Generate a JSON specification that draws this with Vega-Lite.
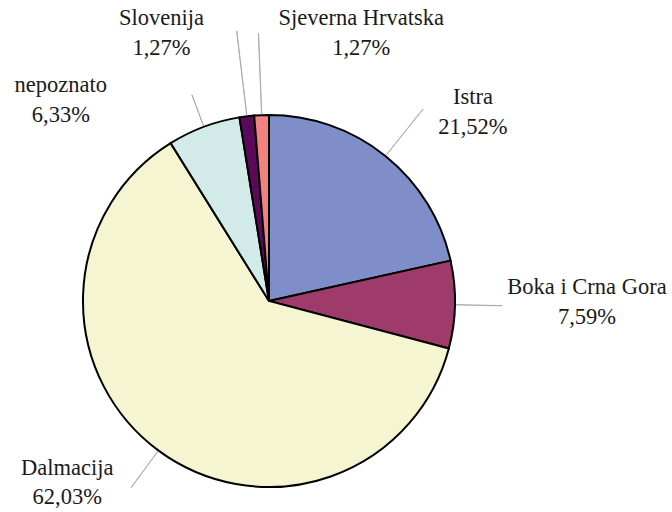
{
  "$schema": "https://vega.github.io/schema/vega-lite/v6.json",
  "width": 372,
  "height": 372,
  "autosize": "none",
  "padding": {"left": 83, "top": 115, "right": 217, "bottom": 25},
  "background": "white",
  "config": {"view": {"stroke": null}},
  "data": {
    "values": [
      {"kategorija": "Istra", "udio": 21.52, "red": 1},
      {"kategorija": "Boka i Crna Gora", "udio": 7.59, "red": 2},
      {"kategorija": "Dalmacija", "udio": 62.03, "red": 3},
      {"kategorija": "nepoznato", "udio": 6.33, "red": 4},
      {"kategorija": "Slovenija", "udio": 1.27, "red": 5},
      {"kategorija": "Sjeverna Hrvatska", "udio": 1.27, "red": 6}
    ]
  },
  "transform": [
    {"window": [{"op": "sum", "field": "udio", "as": "kraj"}], "sort": [{"field": "red"}], "frame": [null, 0]},
    {"calculate": "datum.kraj - datum.udio / 2", "as": "sredina"},
    {"calculate": "datum.sredina + 0.02", "as": "sredina2"},
    {"calculate": "datum.kategorija + '\\n' + replace(format(datum.udio, '.2f'), '.', ',') + '%'", "as": "oznaka"}
  ],
  "layer": [
    {
      "mark": {"type": "arc", "outerRadius": 186, "stroke": "black", "strokeWidth": 2},
      "encoding": {
        "theta": {"field": "udio", "type": "quantitative", "stack": true, "scale": {"domain": [0, 100.01]}},
        "order": {"field": "red", "type": "quantitative"},
        "color": {
          "field": "kategorija",
          "type": "nominal",
          "scale": {
            "domain": ["Istra", "Boka i Crna Gora", "Dalmacija", "nepoznato", "Slovenija", "Sjeverna Hrvatska"],
            "range": ["#7F8DC8", "#9E3B6B", "#F6F5D2", "#D3EBE8", "#5B0A5A", "#F28282"]
          },
          "legend": null
        }
      }
    },
    {
      "transform": [{"filter": "datum.kategorija === 'Istra'"}],
      "layer": [
        {"mark": {"type": "arc", "innerRadius": 187, "outerRadius": 246, "fill": "#a8a8a8", "stroke": "#a8a8a8", "strokeWidth": 0.8},
         "encoding": {"theta": {"field": "sredina", "type": "quantitative", "stack": null, "scale": {"domain": [0, 100.01]}}, "theta2": {"field": "sredina2"}}},
        {"mark": {"type": "text", "radius": 246, "dx": 50, "dy": -12, "font": "Liberation Serif", "fontSize": 22.5, "lineBreak": "\n", "lineHeight": 30, "align": "center", "baseline": "middle", "color": "#1a1a1a"},
         "encoding": {"theta": {"field": "sredina", "type": "quantitative", "stack": null, "scale": {"domain": [0, 100.01]}}, "text": {"field": "oznaka"}}}
      ]
    },
    {
      "transform": [{"filter": "datum.kategorija === 'Boka i Crna Gora'"}],
      "layer": [
        {"mark": {"type": "arc", "innerRadius": 187, "outerRadius": 233, "fill": "#a8a8a8", "stroke": "#a8a8a8", "strokeWidth": 0.8},
         "encoding": {"theta": {"field": "sredina", "type": "quantitative", "stack": null, "scale": {"domain": [0, 100.01]}}, "theta2": {"field": "sredina2"}}},
        {"mark": {"type": "text", "radius": 233, "dx": 85, "dy": -19, "font": "Liberation Serif", "fontSize": 22.5, "lineBreak": "\n", "lineHeight": 30, "align": "center", "baseline": "middle", "color": "#1a1a1a"},
         "encoding": {"theta": {"field": "sredina", "type": "quantitative", "stack": null, "scale": {"domain": [0, 100.01]}}, "text": {"field": "oznaka"}}}
      ]
    },
    {
      "transform": [{"filter": "datum.kategorija === 'Dalmacija'"}],
      "layer": [
        {"mark": {"type": "arc", "innerRadius": 187, "outerRadius": 232, "fill": "#a8a8a8", "stroke": "#a8a8a8", "strokeWidth": 0.8},
         "encoding": {"theta": {"field": "sredina", "type": "quantitative", "stack": null, "scale": {"domain": [0, 100.01]}}, "theta2": {"field": "sredina2"}}},
        {"mark": {"type": "text", "radius": 232, "dx": -64, "dy": -20, "font": "Liberation Serif", "fontSize": 22.5, "lineBreak": "\n", "lineHeight": 29, "align": "center", "baseline": "middle", "color": "#1a1a1a"},
         "encoding": {"theta": {"field": "sredina", "type": "quantitative", "stack": null, "scale": {"domain": [0, 100.01]}}, "text": {"field": "oznaka"}}}
      ]
    },
    {
      "transform": [{"filter": "datum.kategorija === 'nepoznato'"}],
      "layer": [
        {"mark": {"type": "arc", "innerRadius": 187, "outerRadius": 220, "fill": "#a8a8a8", "stroke": "#a8a8a8", "strokeWidth": 0.8},
         "encoding": {"theta": {"field": "sredina", "type": "quantitative", "stack": null, "scale": {"domain": [0, 100.01]}}, "theta2": {"field": "sredina2"}}},
        {"mark": {"type": "text", "radius": 220, "dx": -131, "dy": -10, "font": "Liberation Serif", "fontSize": 22.5, "lineBreak": "\n", "lineHeight": 30, "align": "center", "baseline": "middle", "color": "#1a1a1a"},
         "encoding": {"theta": {"field": "sredina", "type": "quantitative", "stack": null, "scale": {"domain": [0, 100.01]}}, "text": {"field": "oznaka"}}}
      ]
    },
    {
      "transform": [{"filter": "datum.kategorija === 'Slovenija'"}],
      "layer": [
        {"mark": {"type": "arc", "innerRadius": 187, "outerRadius": 272, "fill": "#a8a8a8", "stroke": "#a8a8a8", "strokeWidth": 0.8},
         "encoding": {"theta": {"field": "sredina", "type": "quantitative", "stack": null, "scale": {"domain": [0, 100.01]}}, "theta2": {"field": "sredina2"}}},
        {"mark": {"type": "text", "radius": 272, "dx": -75, "dy": -13, "font": "Liberation Serif", "fontSize": 22.5, "lineBreak": "\n", "lineHeight": 30, "align": "center", "baseline": "middle", "color": "#1a1a1a"},
         "encoding": {"theta": {"field": "sredina", "type": "quantitative", "stack": null, "scale": {"domain": [0, 100.01]}}, "text": {"field": "oznaka"}}}
      ]
    },
    {
      "transform": [{"filter": "datum.kategorija === 'Sjeverna Hrvatska'"}],
      "layer": [
        {"mark": {"type": "arc", "innerRadius": 187, "outerRadius": 268, "fill": "#a8a8a8", "stroke": "#a8a8a8", "strokeWidth": 0.8},
         "encoding": {"theta": {"field": "sredina", "type": "quantitative", "stack": null, "scale": {"domain": [0, 100.01]}}, "theta2": {"field": "sredina2"}}},
        {"mark": {"type": "text", "radius": 268, "dx": 103, "dy": -15, "font": "Liberation Serif", "fontSize": 22.5, "lineBreak": "\n", "lineHeight": 30, "align": "center", "baseline": "middle", "color": "#1a1a1a"},
         "encoding": {"theta": {"field": "sredina", "type": "quantitative", "stack": null, "scale": {"domain": [0, 100.01]}}, "text": {"field": "oznaka"}}}
      ]
    }
  ]
}
